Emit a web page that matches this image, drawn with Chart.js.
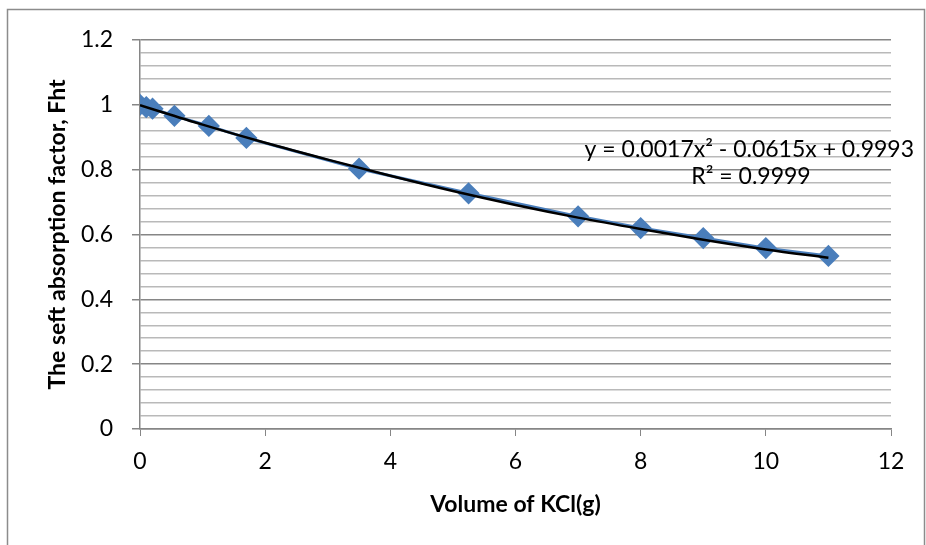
<!DOCTYPE html>
<html>
<head>
<meta charset="utf-8">
<script src="https://cdn.jsdelivr.net/npm/chart.js@4.4.0/dist/chart.umd.min.js"></script>
<style>
  html, body { margin: 0; padding: 0; background: #fff; }
  #wrap { width: 926px; height: 545px; position: relative; }
</style>
</head>
<body>
<div id="wrap"><canvas id="chart" width="926" height="545"></canvas></div>
<script>
// ----------------- Data -----------------
const kclMass   = [0, 0.1, 0.2, 0.55, 1.1, 1.7, 3.5, 5.25, 7, 8, 9, 10, 11];
const fhtValues = [1.0, 0.993, 0.988, 0.966, 0.935, 0.898, 0.803, 0.727, 0.656, 0.62, 0.589, 0.558, 0.534];

// polynomial trendline, points
const trendX = [0, 1, 2, 3, 4, 5, 6, 7, 8, 9, 10, 11];
const trendY = [0.999, 0.939, 0.883, 0.831, 0.781, 0.734, 0.691, 0.652, 0.617, 0.584, 0.554, 0.528];

const xTicks = [0, 2, 4, 6, 8, 10, 12];
// gridlines every 0.04, labels only on 0.2 steps
const yGrid = [0, 0.04, 0.08, 0.12, 0.16, 0.2, 0.24, 0.28, 0.32, 0.36, 0.4, 0.44, 0.48, 0.52, 0.56,
               0.6, 0.64, 0.68, 0.72, 0.76, 0.8, 0.84, 0.88, 0.92, 0.96, 1, 1.04, 1.08, 1.12, 1.16, 1.2];
const yLabels = {0: '0', 5: '0.2', 10: '0.4', 15: '0.6', 20: '0.8', 25: '1', 30: '1.2'};

const equationText = 'y = 0.0017x² - 0.0615x + 0.9993';
const r2Text = 'R² = 0.9999';

const FONT = 'Lato, "Liberation Sans", sans-serif';
const FS = 23;
const MAJOR = '#868686';
const MINOR = '#b9b9b9';

// ----------------- Outer frame + trendline label -----------------
const framePlugin = {
  id: 'frame',
  beforeDraw(chart) {
    const ctx = chart.ctx;
    ctx.save();
    ctx.strokeStyle = '#8c8c8c';
    ctx.lineWidth = 1.5;
    ctx.strokeRect(7.5, 9.5, 917, 600);
    ctx.restore();
  },
  afterDraw(chart) {
    const ctx = chart.ctx;
    ctx.save();
    ctx.fillStyle = '#000';
    ctx.font = FS + 'px ' + FONT;
    ctx.textAlign = 'right';
    ctx.textBaseline = 'middle';
    ctx.fillText(equationText, 914, 150);
    ctx.textAlign = 'center';
    ctx.fillText(r2Text, 751, 177);
    ctx.restore();
  }
};

const isMajor = i => i % 5 === 0;

new Chart(document.getElementById('chart'), {
  type: 'scatter',
  data: {
    datasets: [
      {
        label: 'Fht',
        data: kclMass.map((x, i) => ({x: x, y: fhtValues[i]})),
        showLine: true,
        borderColor: '#4A7EBB',
        backgroundColor: '#4A7EBB',
        borderWidth: 3,
        pointStyle: 'rectRot',
        pointRadius: 9,
        pointHoverRadius: 9,
        order: 2
      },
      {
        label: 'Poly. (Fht)',
        data: trendX.map((x, i) => ({x: x, y: trendY[i]})),
        showLine: true,
        borderColor: '#000000',
        borderWidth: 2.5,
        pointRadius: 0,
        cubicInterpolationMode: 'monotone',
        order: 1
      }
    ]
  },
  options: {
    responsive: false,
    animation: false,
    layout: { padding: { left: 0, top: 40, right: 35, bottom: 0 } },
    plugins: { legend: { display: false }, tooltip: { enabled: false } },
    scales: {
      x: {
        type: 'linear',
        min: 0, max: 12,
        afterBuildTicks: s => { s.ticks = xTicks.map(v => ({value: v})); },
        afterFit: s => { s.height = 116; },
        grid: { drawOnChartArea: false, drawTicks: true, tickLength: 7, color: MAJOR, tickColor: MAJOR },
        border: { display: true, color: MAJOR, width: 1.5 },
        ticks: { color: '#000', font: { family: FONT, size: FS }, padding: 12, autoSkip: false, maxRotation: 0 },
        title: {
          display: true,
          text: 'Volume of KCl(g)',
          color: '#000',
          font: { family: FONT, size: FS, weight: 'bold' },
          padding: { top: 0, bottom: 27 }
        }
      },
      y: {
        min: 0, max: 1.2,
        afterBuildTicks: s => { s.ticks = yGrid.map(v => ({value: v})); },
        ticks: {
          autoSkip: false,
          color: '#000',
          font: { family: FONT, size: FS },
          padding: 19,
          callback: (v, i) => yLabels[i] || ''
        },
        afterFit: s => { s.width = 140; },
        grid: {
          color: c => isMajor(c.index) ? MAJOR : MINOR,
          lineWidth: 1.5,
          tickLength: 8,
          tickColor: c => isMajor(c.index) ? MAJOR : 'rgba(0,0,0,0)'
        },
        border: { display: true, color: MAJOR, width: 1.5 },
        title: {
          display: true,
          text: 'The seft absorption factor, Fht',
          color: '#000',
          font: { family: FONT, size: FS, weight: 'bold' },
          padding: { top: 44, bottom: 0 }
        }
      }
    }
  },
  plugins: [framePlugin]
});
</script>
</body>
</html>
